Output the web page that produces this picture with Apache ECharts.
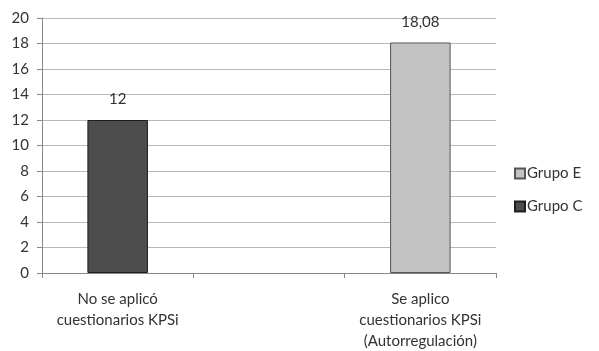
<!DOCTYPE html>
<html><head><meta charset="utf-8">
<script src="https://cdn.jsdelivr.net/npm/echarts@6/dist/echarts.min.js"></script>
<style>html,body{margin:0;padding:0;background:#fff}#c{width:599px;height:351px}</style>
</head><body><div id="c"></div>
<script>
const categories = ['No se aplicó\ncuestionarios KPSi', '', 'Se aplico\ncuestionarios KPSi\n(Autorregulación)'];
const grupoC = [12, null, null];
const grupoE = [null, null, 18.08];
const yTicks = {min: 0, max: 20, interval: 2};

const font = 'Lato, "Open Sans", sans-serif';
const chart = echarts.init(document.getElementById('c'));
const lbl = {
  show: true, position: 'top', distance: 13, color: '#333', fontSize: 15, fontFamily: font,
  formatter: p => String(p.value).replace('.', ',')
};
chart.setOption({
  animation: false,
  grid: {left: 42, right: 103, top: 18, bottom: 78, outerBoundsMode: 'none', containLabel: false},
  legend: {
    data: ['Grupo E', 'Grupo C'], orient: 'vertical', left: 509, top: 161,
    itemWidth: 10, itemHeight: 10, itemGap: 18, icon: 'rect',
    textStyle: {fontSize: 15, color: '#333', fontFamily: font, padding: [0,0,0,-3]}
  },
  xAxis: {
    type: 'category', data: categories,
    axisLine: {lineStyle: {color: '#888'}},
    axisTick: {show: true, length: 5, lineStyle: {color: '#888'}},
    axisLabel: {color: '#333', fontSize: 15, fontFamily: font, margin: 16, lineHeight: 21, interval: 0}
  },
  yAxis: {
    type: 'value', min: yTicks.min, max: yTicks.max, interval: yTicks.interval,
    axisLine: {show: true, lineStyle: {color: '#888'}},
    axisTick: {show: true, length: 5, lineStyle: {color: '#888'}},
    splitLine: {lineStyle: {color: '#b8b8b8'}},
    axisLabel: {color: '#333', fontSize: 15, fontFamily: font, margin: 13}
  },
  series: [
    {name: 'Grupo C', type: 'bar', stack: 's', data: grupoC, barWidth: '40%',
     itemStyle: {color: '#4d4d4d', borderColor: '#1e1e1e', borderWidth: 1}, label: lbl},
    {name: 'Grupo E', type: 'bar', stack: 's', data: grupoE, barWidth: '40%',
     itemStyle: {color: '#c3c3c3', borderColor: '#555', borderWidth: 1}, label: lbl}
  ]
});
</script></body></html>
